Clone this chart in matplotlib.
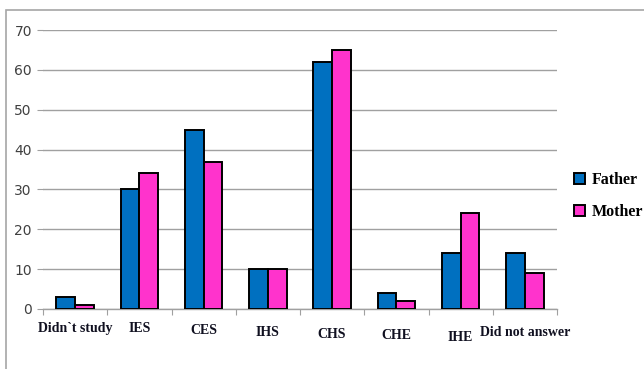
import matplotlib
matplotlib.use("Agg")
import matplotlib.pyplot as plt
import numpy as np
from matplotlib.patches import Rectangle
from matplotlib.transforms import blended_transform_factory, ScaledTranslation

categories = ["Didn`t study", "IES", "CES", "IHS", "CHS", "CHE", "IHE", "Did not answer"]
father = [3, 30, 45, 10, 62, 4, 14, 14]
mother = [1, 34, 37, 10, 65, 2, 24, 9]
yticks = [0, 10, 20, 30, 40, 50, 60, 70]
label_drop = [0, 0, 2, 4, 6, 7, 9, 4]  # pixel offsets of the x labels in the reference

fig = plt.figure(figsize=(6.44, 3.69), dpi=100)
fig.patch.set_facecolor("white")
fig.add_artist(Rectangle((6/644, -0.1), 1.2, 1 - 10/369 + 0.1, transform=fig.transFigure,
                         fill=False, edgecolor="#a6a6a6", linewidth=1.2))

ax = fig.add_axes([43/644, 1 - 309/369, (557 - 43)/644, (309 - 30)/369])
x = np.arange(len(categories))
w = 0.29
ax.bar(x - w/2, father, w, color="#0070C0", edgecolor="black", linewidth=1.4, label="Father", zorder=3)
ax.bar(x + w/2, mother, w, color="#FF33CC", edgecolor="black", linewidth=1.4, label="Mother", zorder=3)

ax.set_xlim(-0.5, len(categories) - 0.5)
ax.set_ylim(0, 70)
ax.set_yticks(yticks)
ax.set_yticklabels([str(v) for v in yticks], fontsize=10, color="#404040", family="DejaVu Sans")
ax.yaxis.grid(True, color="#a0a0a0", linewidth=1.0, zorder=0)
ax.set_axisbelow(True)
for s in ["top", "right", "left"]:
    ax.spines[s].set_visible(False)
ax.spines["bottom"].set_color("#a0a0a0")
ax.spines["bottom"].set_linewidth(1.0)
ax.tick_params(axis="y", length=4, color="#a0a0a0", pad=4)
ax.set_xticks(np.arange(len(categories) + 1) - 0.5)
ax.set_xticklabels([])
ax.tick_params(axis="x", length=4, color="#a0a0a0")

trans = blended_transform_factory(ax.transData, ax.transAxes)
for i, c in enumerate(categories):
    t = trans + ScaledTranslation(0, -(13 + label_drop[i]) / 100, fig.dpi_scale_trans)
    ax.text(i, 0, c, transform=t, ha="center", va="top", fontsize=10,
            fontweight="bold", family="Liberation Serif", color="#101020")

leg = ax.legend(loc="center left", bbox_to_anchor=(1.005, 0.405), frameon=False,
                prop={"family": "Liberation Serif", "weight": "bold", "size": 11.5},
                handlelength=0.7, handleheight=0.7, handletextpad=0.4, labelspacing=1.0)

fig.savefig("out.png", dpi=100)
